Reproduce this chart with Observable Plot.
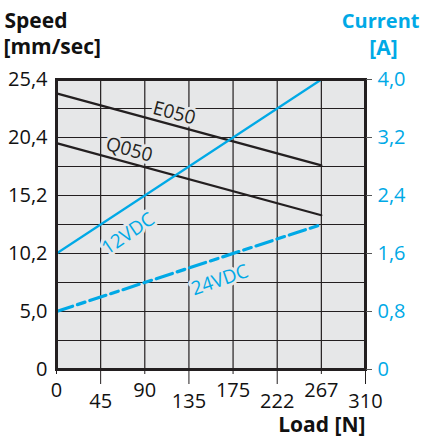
<!DOCTYPE html>
<html><head><meta charset="utf-8">
<script src="https://cdn.jsdelivr.net/npm/d3@7"></script>
<script src="https://cdn.jsdelivr.net/npm/@observablehq/plot@0.6"></script>
<style>html,body{margin:0;padding:0;background:#fff} svg{display:block}</style>
</head><body><div id="chart"></div>
<script>
// ---- data ----
const loadTicks = [0, 45, 90, 135, 175, 222, 267, 310];
const loadTicksRow1 = [0, 90, 175, 267];
const loadTicksRow2 = [45, 135, 222, 310];
const speedTicks = [0, 5.0, 10.2, 15.2, 20.4, 25.4];
const speedLabels = ["0", "5,0", "10,2", "15,2", "20,4", "25,4"];
const currentTicks = [0, 0.8, 1.6, 2.4, 3.2, 4.0];
const currentLabels = ["0", "0,8", "1,6", "2,4", "3,2", "4,0"];

const loads = [0, 267];
const e050Speed = [24.2, 17.9];     // mm/sec
const q050Speed = [19.9, 13.5];     // mm/sec
const vdc12Current = [1.6, 4.0];    // A
const vdc24Current = [0.8, 2.0];    // A

const curveNames = ["E050", "Q050", "12VDC", "24VDC"];
const curveLabelLoad = [120, 74, 73, 163];
const curveLabelSpeed = [22.5, 19.3, 11.9, 7.8];
const curveLabelAngle = [15, 15, -34, -19];

// ---- styling ----
const BLUE = "#00a9e6";
const DARK = "#231f20";
const BG = "#e6e7e8";
const FONT = "'Open Sans', sans-serif";

// current (A) -> position on speed axis (both axes share 5 equal intervals)
const c2s = d3.scaleLinear(currentTicks, speedTicks);
const speedMid = d3.pairs(speedTicks).map(([a, b]) => (a + b) / 2);
const lbl = (ticks, labels) => d => labels[ticks.findIndex(t => Math.abs(t - d) < 1e-6)];

const series = (name, xs, ys) => xs.map((x, i) => ({name, load: x, speed: ys[i]}));
const e050 = series("E050", loads, e050Speed);
const q050 = series("Q050", loads, q050Speed);
const v12 = series("12VDC", loads, vdc12Current.map(c2s));
const v24 = series("24VDC", loads, vdc24Current.map(c2s));
const labelsData = curveNames.map((n, i) => ({
  name: n, load: curveLabelLoad[i], speed: curveLabelSpeed[i], angle: curveLabelAngle[i],
  color: i < 2 ? DARK : BLUE
}));

const W = 422, H = 441, ML = 56, MR = 57, MT = 79, MB = 72;
const xRange = loadTicks.map((_, i) => ML + i * (W - ML - MR) / (loadTicks.length - 1));
const yRange = speedTicks.map((_, i) => (H - MB) - i * (H - MB - MT) / (speedTicks.length - 1));

const chart = Plot.plot({
  width: W,
  height: H,
  marginLeft: ML,
  marginRight: MR,
  marginTop: MT,
  marginBottom: MB,
  style: {fontFamily: FONT, background: "#fff"},
  x: {type: "linear", domain: loadTicks, range: xRange},
  y: {type: "linear", domain: speedTicks, range: yRange},
  marks: [
    Plot.frame({fill: BG}),
    Plot.ruleX(loadTicks.slice(1, -1), {stroke: DARK, strokeWidth: 1.2}),
    Plot.ruleY(speedTicks.slice(1, -1).concat(speedMid), {stroke: DARK, strokeWidth: 1.2}),
    Plot.text(labelsData, {
      x: "load", y: "speed", text: "name", rotate: "angle", fill: "color",
      stroke: BG, strokeWidth: 6, fontSize: 19, fontFamily: FONT
    }),
    Plot.line(e050, {x: "load", y: "speed", stroke: DARK, strokeWidth: 2.2}),
    Plot.line(q050, {x: "load", y: "speed", stroke: DARK, strokeWidth: 2.2}),
    Plot.line(v12, {x: "load", y: "speed", stroke: BLUE, strokeWidth: 2.2}),
    Plot.line(v24, {x: "load", y: "speed", stroke: BLUE, strokeWidth: 3.2, strokeDasharray: "17,5,8,5"}),
    Plot.frame({stroke: DARK, strokeWidth: 3}),
    Plot.axisY(speedTicks, {anchor: "left", tickSize: 0, tickPadding: 9, fontSize: 20,
      tickFormat: lbl(speedTicks, speedLabels), label: null, fill: "#111"}),
    Plot.axisY(currentTicks.map(c2s), {anchor: "right", tickSize: 6, tickPadding: 6, fontSize: 20,
      tickFormat: lbl(speedTicks, currentLabels), label: null, fill: BLUE, stroke: "#555"}),
    Plot.axisX(loadTicksRow1, {anchor: "bottom", tickSize: 5, tickPadding: 8, fontSize: 20,
      label: null, fill: "#111", stroke: DARK, tickFormat: d => String(d)}),
    Plot.axisX(loadTicksRow2, {anchor: "bottom", tickSize: 15, tickPadding: 9, fontSize: 20,
      label: null, fill: "#111", stroke: DARK, tickFormat: d => String(d)}),
    // titles
    Plot.text(["Speed"], {frameAnchor: "top-left", dx: -52, dy: -66, textAnchor: "start",
      fontSize: 21, fontWeight: "bold", fill: "#111", fontFamily: FONT}),
    Plot.text(["[mm/sec]"], {frameAnchor: "top-left", dx: -53, dy: -40, textAnchor: "start",
      fontSize: 21, fontWeight: "bold", fill: "#111", fontFamily: FONT}),
    Plot.text(["Current"], {frameAnchor: "top-right", dx: 54, dy: -66, textAnchor: "end",
      fontSize: 20, fontWeight: "bold", fill: BLUE, fontFamily: FONT}),
    Plot.text(["[A]"], {frameAnchor: "top-right", dx: 18, dy: -39, textAnchor: "middle",
      fontSize: 21, fontWeight: "bold", fill: BLUE, fontFamily: FONT}),
    Plot.text(["Load [N]"], {frameAnchor: "bottom-right", dx: 0, dy: 62, textAnchor: "end",
      fontSize: 21, fontWeight: "bold", fill: "#111", fontFamily: FONT})
  ]
});
document.getElementById("chart").appendChild(chart);
</script>
</body></html>
